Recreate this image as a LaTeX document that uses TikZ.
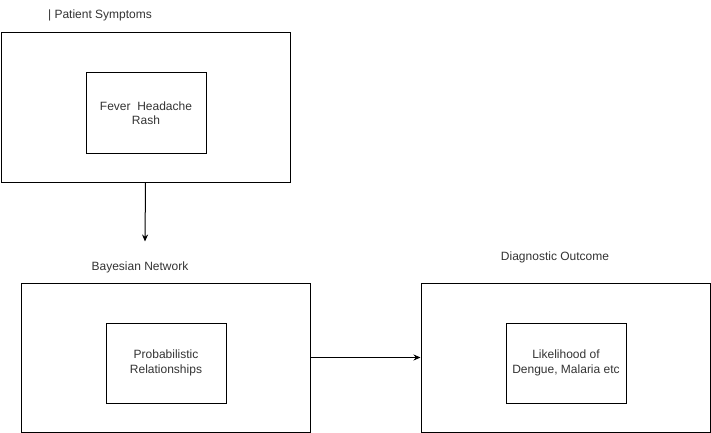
\documentclass[tikz,border=0pt]{standalone}
\usepackage{fontspec}
\setmainfont{Liberation Sans}
\usetikzlibrary{arrows.meta}
\begin{document}
\begin{tikzpicture}[x=1pt,y=-1pt,
  outerbox/.style={draw=black,line width=1pt,minimum width=289pt,minimum height=149pt,inner sep=0pt,anchor=north west},
  innerbox/.style={draw=black,line width=1pt,minimum width=120pt,minimum height=80pt,inner sep=0pt,anchor=north west},
  lbl/.style={font=\fontsize{12}{14.5}\selectfont,text=black!80,align=center,inner sep=0pt},
  conn/.style={draw=black,line width=1pt,-{Stealth[length=7pt,width=6pt]}}]
\useasboundingbox (0,0) rectangle (711,433);
% boxes
\node[outerbox] (o1) at (0.5,32.5) {};
\node[innerbox] (i1) at (85.5,72.5) {};
\node[outerbox] (o2) at (20.5,282.5) {};
\node[innerbox] (i2) at (105.5,322.5) {};
\node[outerbox] (o3) at (420.5,282.5) {};
\node[innerbox] (i3) at (505.5,322.5) {};
% texts
\node[lbl] (t1) at (i1.center) {Fever\ \ Headache\\Rash\ };
\node[lbl] (t2) at (i2.center) {Probabilistic\\Relationships};
\node[lbl] (t3) at (i3.center) {Likelihood of\\Dengue, Malaria etc};
\node[lbl] (h1) at (100,15) {| Patient Symptoms};
\node[lbl] (h2) at (140,267) {Bayesian Network};
\node[lbl] (h3) at (555,257) {Diagnostic Outcome};
% connectors
\coordinate (a1) at (145,241.5);
\draw[conn] (o1.south) -- (a1);
\draw[conn] (o2.east) -- (o3.west);
\end{tikzpicture}
\end{document}
